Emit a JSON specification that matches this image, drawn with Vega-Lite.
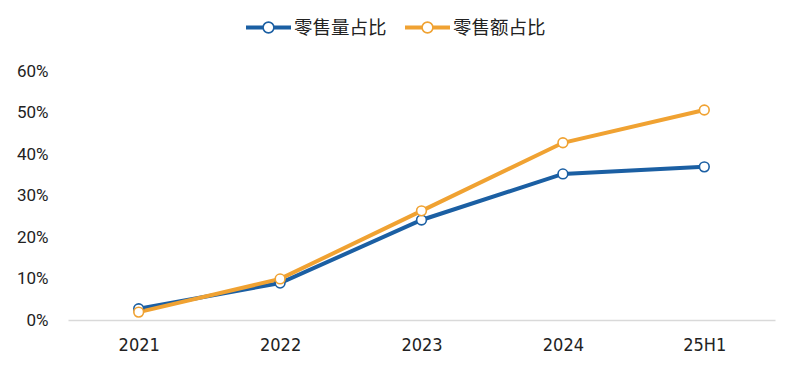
{
  "$schema": "https://vega.github.io/schema/vega-lite/v6.json",
  "width": 707,
  "height": 249,
  "autosize": "none",
  "padding": {"left": 68, "top": 71, "right": 25, "bottom": 52},
  "background": "white",
  "config": {"view": {"stroke": null}, "font": "Roboto"},
  "data": {
    "values": [
      {"period": "2021", "series": "零售量占比", "value": 0.027},
      {"period": "2022", "series": "零售量占比", "value": 0.089},
      {"period": "2023", "series": "零售量占比", "value": 0.241},
      {"period": "2024", "series": "零售量占比", "value": 0.352},
      {"period": "25H1", "series": "零售量占比", "value": 0.369},
      {"period": "2021", "series": "零售额占比", "value": 0.019},
      {"period": "2022", "series": "零售额占比", "value": 0.099},
      {"period": "2023", "series": "零售额占比", "value": 0.263},
      {"period": "2024", "series": "零售额占比", "value": 0.427},
      {"period": "25H1", "series": "零售额占比", "value": 0.506}
    ]
  },
  "mark": {"type": "line", "strokeWidth": 4, "point": {"filled": false, "fill": "white", "fillOpacity": 1, "size": 95, "strokeWidth": 1.6, "opacity": 1}},
  "encoding": {
    "x": {
      "field": "period", "type": "ordinal", "sort": null,
      "scale": {"type": "point", "padding": 0.5},
      "axis": {"title": null, "labelAngle": 0, "labelFontSize": 18, "labelColor": "#222", "labelFont": "DejaVu Sans Condensed, Roboto Condensed, Roboto, sans-serif", "ticks": false, "domainColor": "#d9d9d9", "domainWidth": 1.5, "labelPadding": 16, "grid": false}
    },
    "y": {
      "field": "value", "type": "quantitative",
      "scale": {"domain": [0, 0.6], "nice": false},
      "axis": {"title": null, "format": ".0%", "values": [0, 0.1, 0.2, 0.3, 0.4, 0.5, 0.6], "labelFontSize": 17, "labelColor": "#222", "ticks": false, "domain": false, "grid": false, "labelPadding": 20}
    },
    "color": {
      "field": "series", "type": "nominal", "sort": ["零售量占比", "零售额占比"],
      "scale": {"range": ["#1B5FA3", "#F0A232"]},
      "legend": {
        "title": null, "orient": "none", "direction": "horizontal", "legendX": 177, "legendY": -67,
        "symbolType": "M-1,-0.05H-0.24M-1,0H-0.24M-1,0.05H-0.24M0.24,-0.05H1M0.24,0H1M0.24,0.05H1M0.24,0A0.24,0.24 0 1 1 -0.24,0A0.24,0.24 0 1 1 0.24,0",
        "symbolSize": 2025, "symbolStrokeWidth": 1.6, "symbolFillColor": "white",
        "labelFont": "Noto Sans CJK SC", "labelFontSize": 18.5, "labelColor": "#222", "labelOffset": 2,
        "columnPadding": 14,
        "encode": {"symbols": {"update": {"fill": {"value": "white"}, "fillOpacity": {"value": 1}}}}
      }
    }
  }
}
